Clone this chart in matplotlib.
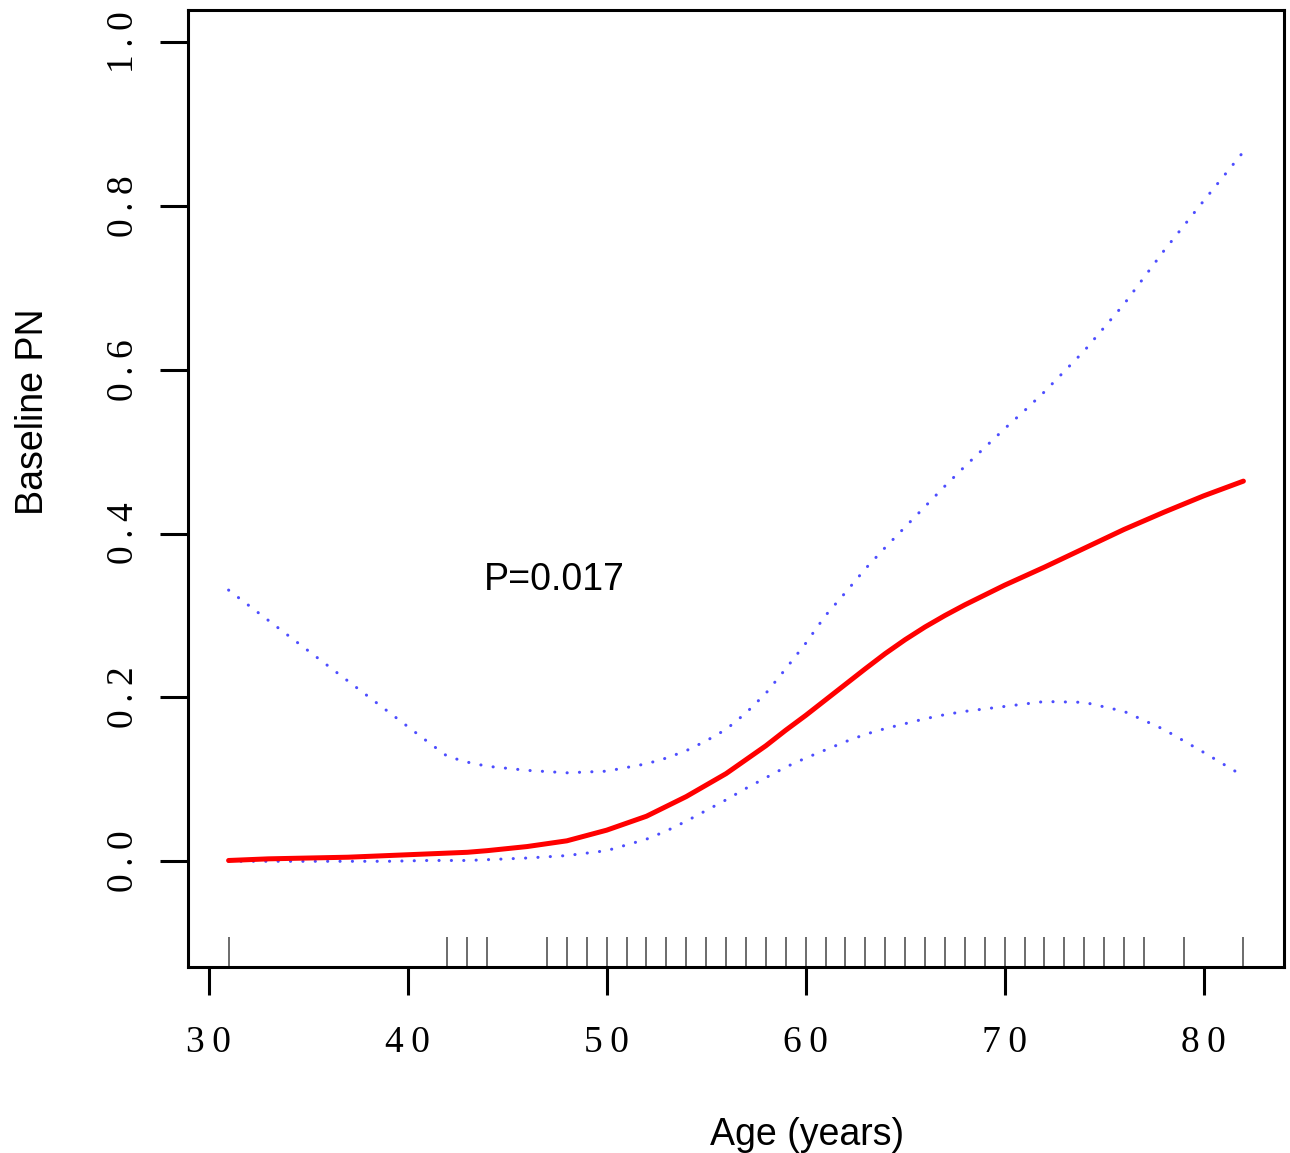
import matplotlib
matplotlib.use("Agg")
import matplotlib.pyplot as plt
import matplotlib.transforms as mtransforms

# values
age = [31, 33, 35, 37, 39, 41, 42, 43, 44, 46, 48, 50, 52, 53, 54, 55, 56, 57,
       58, 59, 60, 61, 62, 63, 64, 65, 66, 67, 68, 69, 70, 71, 72, 74, 76, 78, 80, 82]
fit = [0.001, 0.003, 0.004, 0.005, 0.007, 0.009, 0.010, 0.011, 0.013, 0.018,
       0.025, 0.038, 0.055, 0.067, 0.079, 0.093, 0.107, 0.124, 0.141, 0.160,
       0.178, 0.197, 0.216, 0.235, 0.2535, 0.2705, 0.286, 0.300, 0.313, 0.325,
       0.337, 0.348, 0.359, 0.382, 0.405, 0.426, 0.446, 0.464]
upper = [0.331, 0.294, 0.257, 0.220, 0.183, 0.146, 0.128, 0.121, 0.116, 0.111,
         0.108, 0.110, 0.119, 0.126, 0.135, 0.147, 0.161, 0.181, 0.205, 0.235,
         0.266, 0.300, 0.328, 0.357, 0.383, 0.408, 0.433, 0.458, 0.482, 0.505,
         0.528, 0.550, 0.573, 0.623, 0.680, 0.745, 0.806, 0.866]
lower = [0.000, 0.000, 0.000, 0.000, 0.000, 0.001, 0.001, 0.001, 0.002, 0.004,
         0.007, 0.013, 0.027, 0.037, 0.049, 0.062, 0.075, 0.089, 0.102, 0.115,
         0.126, 0.136, 0.146, 0.155, 0.162, 0.168, 0.174, 0.179, 0.183, 0.186,
         0.189, 0.192, 0.195, 0.194, 0.183, 0.161, 0.133, 0.104]
rug_ages = [31, 42, 43, 44] + list(range(47, 78)) + [79, 82]
x_ticks = [30, 40, 50, 60, 70, 80]
y_ticks = [0.0, 0.2, 0.4, 0.6, 0.8, 1.0]

fig = plt.figure(figsize=(12.9, 11.53), dpi=100)
ax = fig.add_axes([188 / 1290, 1 - 967 / 1153, (1284 - 188) / 1290, (967 - 10) / 1153])

dots = (0, (0.05, 4.0))
ax.plot(age, upper, color="#4d4dff", lw=2.2, linestyle=dots, dash_capstyle="round")
ax.plot(age, lower, color="#4d4dff", lw=2.2, linestyle=dots, dash_capstyle="round")
ax.plot(age, fit, color="#ff0000", lw=3.6, solid_capstyle="round", solid_joinstyle="round")

trans = mtransforms.blended_transform_factory(ax.transData, ax.transAxes)
ax.vlines(rug_ages, 0, 0.031, transform=trans, color="#444444", lw=1.1)

ax.text(47.35, 0.343, "P=0.017", fontsize=27, family="Liberation Sans", ha="center", va="center")

serif = ["Liberation Serif", "DejaVu Serif"]
thin = "\u2009"
ax.set_xlim(28.96, 84.04)
ax.set_ylim(-0.129, 1.039)
ax.set_xticks(x_ticks)
ax.set_xticklabels([thin.join(str(v)) for v in x_ticks], family=serif, fontsize=27)
ax.set_yticks(y_ticks)
ax.set_yticklabels([thin.join(f"{v:.1f}") for v in y_ticks], family=serif, fontsize=27,
                   rotation=90, va="center")
ax.tick_params(axis="both", length=20, width=2.2, direction="out")
ax.tick_params(axis="x", pad=22)
ax.tick_params(axis="y", pad=14)
for s in ax.spines.values():
    s.set_linewidth(2.2)

ax.set_xlabel("Age (years)", fontsize=27, family="Liberation Sans")
ax.xaxis.set_label_coords(0.565, -0.157)
ax.set_ylabel("Baseline PN", fontsize=27, family="Liberation Sans")
ax.yaxis.set_label_coords(-0.125, 0.58)

fig.savefig("out.png", dpi=100)
